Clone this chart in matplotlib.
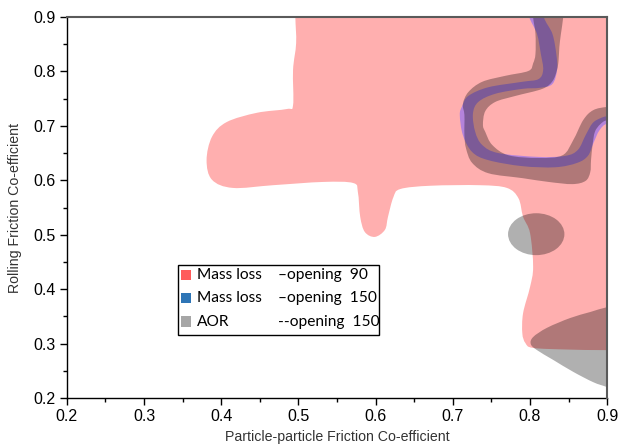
import numpy as np
import matplotlib
matplotlib.use("Agg")
import matplotlib.pyplot as plt
from matplotlib.path import Path
from matplotlib.patches import PathPatch, Ellipse, Rectangle

# region outlines (data units)
pink_x = [0.496, 0.496, 0.497, 0.493, 0.493, 0.485, 0.446, 0.407, 0.388, 0.381, 0.388, 0.415,
          0.467, 0.532, 0.571, 0.577, 0.580, 0.586, 0.599, 0.612, 0.616, 0.623, 0.632, 0.671,
          0.735, 0.770, 0.785, 0.791, 0.800, 0.804, 0.800, 0.791, 0.790, 0.794, 0.804, 0.850,
          0.900, 1.000, 1.000]
pink_y = [0.950, 0.900, 0.852, 0.803, 0.738, 0.731, 0.724, 0.707, 0.680, 0.637, 0.601, 0.586,
          0.591, 0.597, 0.595, 0.578, 0.533, 0.505, 0.496, 0.509, 0.533, 0.569, 0.584, 0.590,
          0.591, 0.586, 0.567, 0.533, 0.503, 0.441, 0.404, 0.356, 0.319, 0.301, 0.292, 0.289,
          0.288, 0.288, 0.950]

# mass loss opening 150 band: one side, then the other
blue_a_x = [0.797, 0.799, 0.809, 0.814, 0.817, 0.811, 0.790, 0.746, 0.720, 0.712, 0.709, 0.713,
            0.725, 0.746, 0.790, 0.833, 0.861, 0.875, 0.882, 0.890, 0.901, 0.930]
blue_a_y = [0.930, 0.900, 0.869, 0.832, 0.803, 0.786, 0.781, 0.771, 0.755, 0.736, 0.720, 0.683,
            0.652, 0.637, 0.626, 0.624, 0.632, 0.645, 0.668, 0.692, 0.705, 0.712]
blue_b_x = [0.820, 0.818, 0.829, 0.834, 0.835, 0.829, 0.813, 0.790, 0.755, 0.733, 0.726, 0.729,
            0.738, 0.759, 0.811, 0.846, 0.862, 0.872, 0.881, 0.891, 0.901, 0.930]
blue_b_y = [0.930, 0.900, 0.869, 0.832, 0.803, 0.777, 0.770, 0.768, 0.759, 0.744, 0.722, 0.689,
            0.665, 0.650, 0.643, 0.645, 0.656, 0.683, 0.705, 0.714, 0.718, 0.722]

# AOR opening 150 band
gray_a_x = [0.804, 0.804, 0.807, 0.807, 0.804, 0.798, 0.768, 0.738, 0.720, 0.713, 0.715, 0.715,
            0.717, 0.725, 0.746, 0.790, 0.824, 0.855, 0.872, 0.878, 0.879, 0.881, 0.884, 0.891,
            0.901, 0.930]
gray_a_y = [0.930, 0.900, 0.869, 0.832, 0.815, 0.801, 0.792, 0.781, 0.762, 0.740, 0.720, 0.683,
            0.659, 0.632, 0.613, 0.604, 0.597, 0.593, 0.599, 0.615, 0.637, 0.665, 0.689, 0.703,
            0.711, 0.716]
gray_b_x = [0.844, 0.843, 0.840, 0.838, 0.837, 0.835, 0.829, 0.816, 0.781, 0.755, 0.742, 0.739,
            0.742, 0.751, 0.772, 0.811, 0.842, 0.856, 0.869, 0.882, 0.901, 0.930]
gray_b_y = [0.930, 0.900, 0.869, 0.845, 0.821, 0.803, 0.782, 0.768, 0.755, 0.744, 0.727, 0.702,
            0.689, 0.665, 0.646, 0.641, 0.646, 0.674, 0.711, 0.729, 0.735, 0.737]

# AOR blob and lower-right lens
blob_center = (0.808, 0.501)
blob_size = (0.073, 0.077)
lens_x = [0.801, 0.804, 0.822, 0.852, 0.878, 0.900, 0.930, 0.930, 0.900, 0.882, 0.856, 0.830, 0.809]
lens_y = [0.299, 0.312, 0.329, 0.347, 0.358, 0.367, 0.375, 0.205, 0.220, 0.229, 0.248, 0.270, 0.288]

legend_labels = ["Mass loss", "Mass loss", "AOR"]
legend_notes = ["\u2013opening  90", "\u2013opening  150", "--opening  150"]
legend_colors = ["#ff5b5b", "#2e75b6", "#a6a6a6"]


def smooth_path(xs, ys):
    # closed Catmull-Rom through the read points, drawn as bezier curves
    p = np.column_stack([xs, ys])
    n = len(p)
    verts = [p[0]]
    codes = [Path.MOVETO]
    for i in range(n):
        p0, p1, p2, p3 = p[i - 1], p[i], p[(i + 1) % n], p[(i + 2) % n]
        verts += [p1 + (p2 - p0) / 6, p2 - (p3 - p1) / 6, p2]
        codes += [Path.CURVE4] * 3
    return Path(verts, codes)


def band(sx, sy, tx, ty):
    return smooth_path(list(sx) + list(tx[::-1]), list(sy) + list(ty[::-1]))


plt.rcParams['font.family'] = ['Liberation Sans', 'DejaVu Sans']

fig = plt.figure(figsize=(6.19, 4.47), dpi=100)
ax = fig.add_axes([0.108, 0.1096, 0.873, 0.8523])

ax.add_patch(PathPatch(smooth_path(pink_x, pink_y), facecolor="#ffafaf", edgecolor="none", zorder=1))
ax.add_patch(PathPatch(band(blue_a_x, blue_a_y, blue_b_x, blue_b_y),
                       facecolor=(0.51, 0.40, 0.98), alpha=0.6, edgecolor="none", zorder=2))
ax.add_patch(PathPatch(band(gray_a_x, gray_a_y, gray_b_x, gray_b_y),
                       facecolor="black", alpha=0.31, edgecolor="none", zorder=3))
ax.add_patch(Ellipse(blob_center, blob_size[0], blob_size[1], facecolor="black", alpha=0.31,
                     edgecolor="none", zorder=3))
ax.add_patch(PathPatch(smooth_path(lens_x, lens_y), facecolor="black", alpha=0.31,
                       edgecolor="none", zorder=3))

ax.set_xlim(0.2, 0.9)
ax.set_ylim(0.2, 0.9)
ax.set_xticks(np.arange(0.2, 0.91, 0.1))
ax.set_yticks(np.arange(0.2, 0.91, 0.1))
ax.set_xticks(np.arange(0.25, 0.9, 0.1), minor=True)
ax.set_yticks(np.arange(0.25, 0.9, 0.1), minor=True)
ax.set_xticklabels(["%.1f" % v for v in np.arange(0.2, 0.91, 0.1)])
ax.set_yticklabels(["%.1f" % v for v in np.arange(0.2, 0.91, 0.1)])
ax.tick_params(which="major", direction="out", length=5, width=1, labelsize=11.5, pad=3)
ax.tick_params(which="minor", direction="out", length=3, width=1)
ax.tick_params(top=False, right=False, which="both")
for s in ["left", "bottom"]:
    ax.spines[s].set_color("black")
    ax.spines[s].set_linewidth(1)
for s in ["top", "right"]:
    ax.spines[s].set_color("#5a5a5a")
    ax.spines[s].set_linewidth(1.5)
    ax.spines[s].set_zorder(5)

ax.set_xlabel("Particle-particle Friction Co-efficient", fontsize=10.2, color="#333333", labelpad=4)
ax.set_ylabel("Rolling Friction Co-efficient", fontsize=10.2, color="#333333", labelpad=8)

# legend box drawn by hand so the second column lines up
ax.add_patch(Rectangle((0.206, 0.165), 0.372, 0.184, transform=ax.transAxes, facecolor="white",
                       edgecolor="black", linewidth=1, zorder=6))
rows = [0.322, 0.262, 0.200]
for lab, note, col, yy in zip(legend_labels, legend_notes, legend_colors, rows):
    ax.add_patch(Rectangle((0.211, yy - 0.013), 0.019, 0.027, transform=ax.transAxes,
                           facecolor=col, edgecolor="none", zorder=7))
    ax.text(0.241, yy, lab, transform=ax.transAxes, fontsize=11.2, family=["Lato", "DejaVu Sans"],
            va="center", ha="left", zorder=7)
    ax.text(0.391, yy, note, transform=ax.transAxes, fontsize=11.2, family=["Lato", "DejaVu Sans"],
            va="center", ha="left", zorder=7)

fig.savefig("out.png", dpi=100)
